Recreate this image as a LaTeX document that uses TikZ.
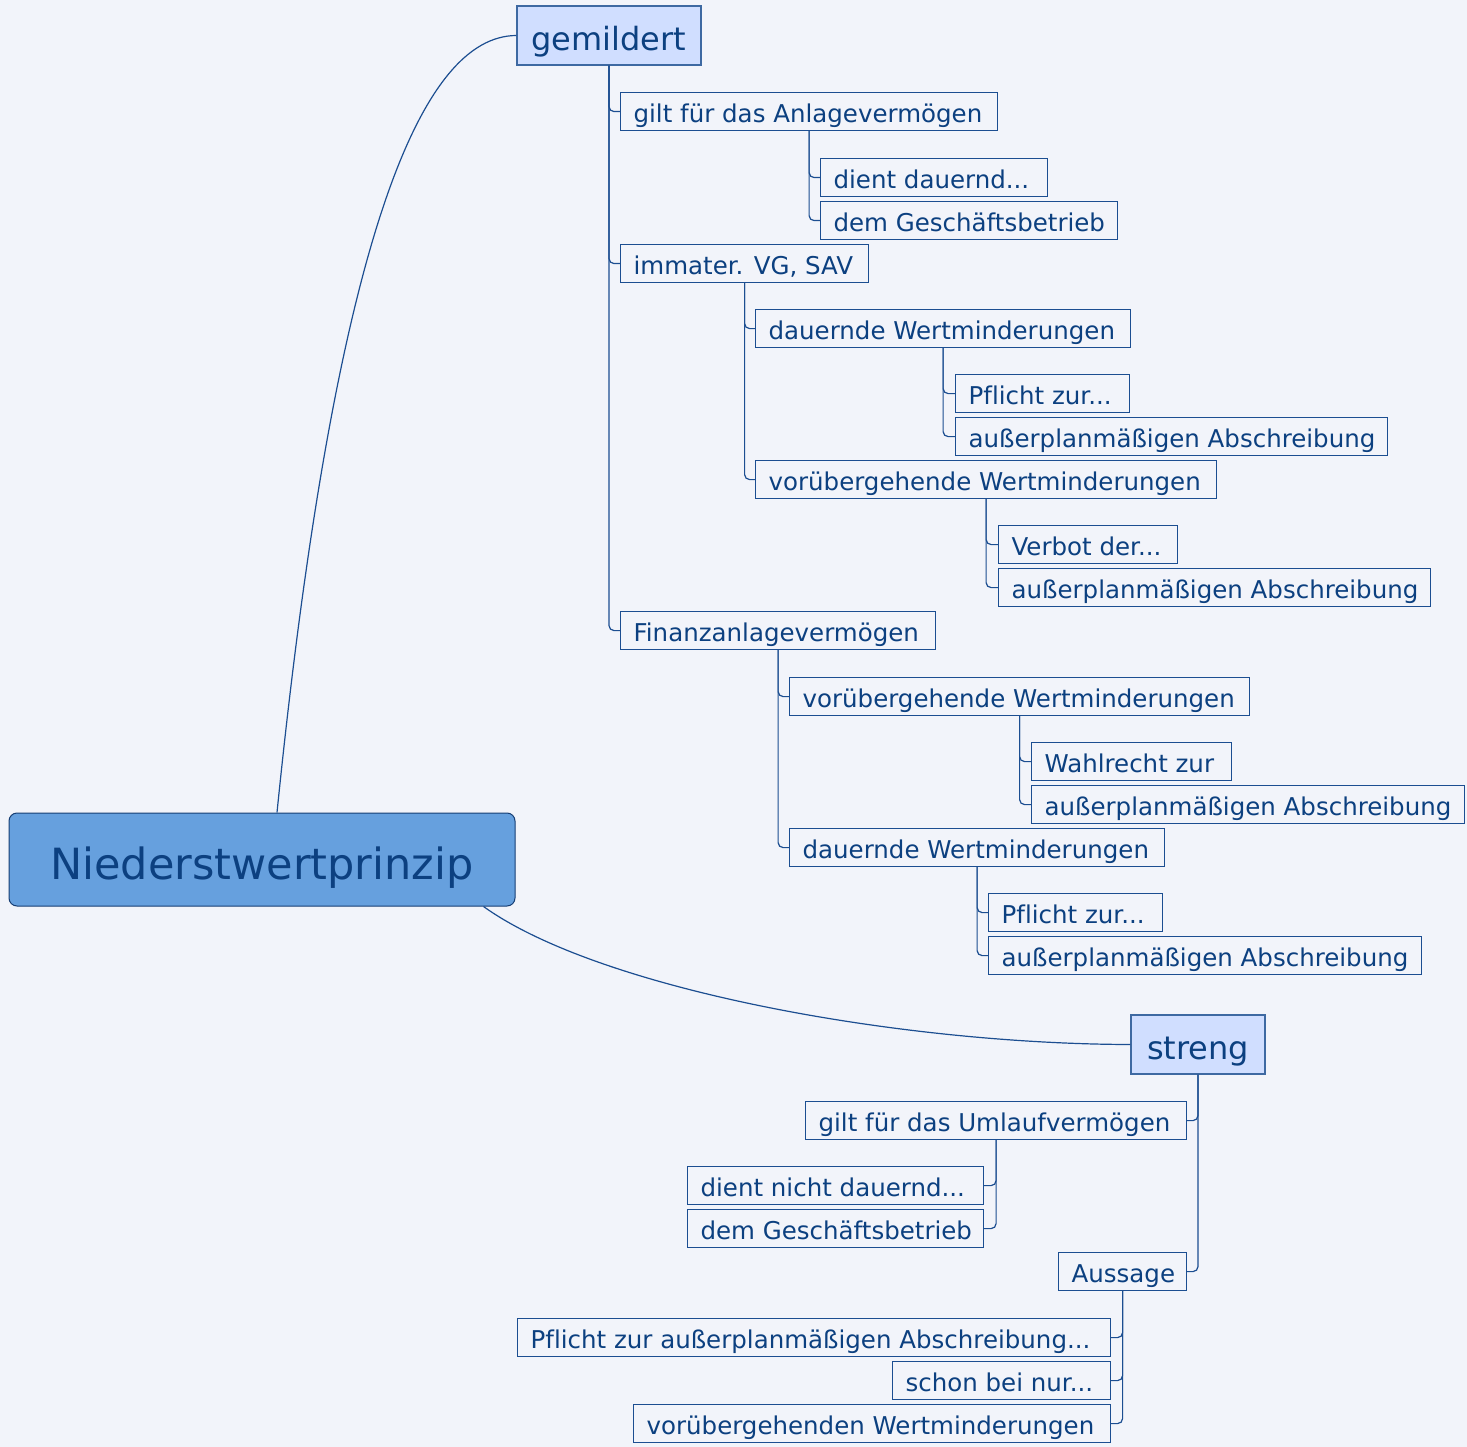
\documentclass[tikz,border=0pt]{standalone}
\usepackage{fontspec}
\setmainfont{DejaVu Sans}[Ligatures=NoCommon]
\definecolor{bg}{RGB}{242,244,250}
\definecolor{lc}{RGB}{28,78,145}
\definecolor{tc}{RGB}{12,64,128}
\definecolor{rootfill}{RGB}{102,160,222}
\definecolor{midfill}{RGB}{208,222,255}
\tikzset{
 leaf/.style={draw=lc, line width=1.2pt, inner xsep=13pt, inner ysep=0pt, minimum height=38pt, anchor=north west, text height=24pt, text depth=2pt, text=tc, font=\fontsize{24.5}{28}\selectfont},
 mid/.style={draw=lc!85!white, line width=1.2pt, fill=midfill, text=tc, inner sep=0pt, minimum height=59pt, text height=32pt, text depth=1.6pt, font=\fontsize{32}{36}\selectfont},
 rootbox/.style={draw=lc!80!black, line width=1pt, fill=rootfill, rounded corners=8pt, text=tc, inner sep=0pt, minimum width=506pt, minimum height=93pt, text height=40pt, text depth=1pt, font=\fontsize{43}{48}\selectfont},
 conn/.style={draw=lc, line width=1.2pt},
 br/.style={conn, rounded corners=5pt},
}
\newcommand\lf[5]{\node[leaf, minimum width=#4pt] (#1) at (#2,#3) {\makebox[\dimexpr#4pt-26pt\relax][l]{#5}};}
\begin{document}
\begin{tikzpicture}[x=1pt,y=-1pt]
\fill[bg] (0,0) rectangle (1467,1447);
\useasboundingbox (0,0) rectangle (1467,1447);

\node[rootbox] (root) at (262,859.5) {Niederstwertprinzip};
\node[mid, minimum width=184pt] (g) at (609,35.5) {gemildert};
\node[mid, minimum width=134pt] (s) at (1198,1044.5) {streng};

\lf{a1}{620}{92}{377}{gilt für das Anlagevermögen}
\lf{a11}{820}{158}{227}{dient dauernd...}
\lf{a12}{820}{201}{297}{dem Geschäftsbetrieb}
\lf{a2}{620}{244}{248}{immater. VG, SAV}
\lf{a21}{755}{309}{375}{dauernde Wertminderungen}
\lf{a211}{955}{374}{174}{Pflicht zur...}
\lf{a212}{955}{417}{432}{außerplanmäßigen Abschreibung}
\lf{a22}{755}{460}{461}{vorübergehende Wertminderungen}
\lf{a221}{998}{525}{179}{Verbot der...}
\lf{a222}{998}{568}{432}{außerplanmäßigen Abschreibung}
\lf{a3}{620}{611}{315}{Finanzanlagevermögen}
\lf{a31}{789}{677}{460}{vorübergehende Wertminderungen}
\lf{a311}{1031}{742}{200}{Wahlrecht zur}
\lf{a312}{1031}{785}{433}{außerplanmäßigen Abschreibung}
\lf{a32}{789}{828}{375}{dauernde Wertminderungen}
\lf{a321}{988}{893}{174}{Pflicht zur...}
\lf{a322}{988}{936}{433}{außerplanmäßigen Abschreibung}
\lf{b1}{805}{1101}{381}{gilt für das Umlaufvermögen}
\lf{b11}{687}{1166}{296}{dient nicht dauernd...}
\lf{b12}{687}{1209}{296}{dem Geschäftsbetrieb}
\lf{b2}{1058}{1252}{128}{Aussage}
\lf{b21}{517}{1318}{593}{Pflicht zur außerplanmäßigen Abschreibung...}
\lf{b22}{892}{1361}{218}{schon bei nur...}
\lf{b23}{633}{1404}{477}{vorübergehenden Wertminderungen}

\draw[conn] ([xshift=15pt]root.north) .. controls (335,240) and (420,36) .. (g.west);
\draw[conn] ([xshift=-32pt]root.south east) .. controls (600,990) and (900,1044) .. (s.west);

\foreach \c in {a1,a2,a3} \draw[br] (g.south) |- (\c.west);
\foreach \c in {a11,a12} \draw[br] (a1.south) |- (\c.west);
\foreach \c in {a21,a22} \draw[br] (a2.south) |- (\c.west);
\foreach \c in {a211,a212} \draw[br] (a21.south) |- (\c.west);
\foreach \c in {a221,a222} \draw[br] (a22.south) |- (\c.west);
\foreach \c in {a31,a32} \draw[br] (a3.south) |- (\c.west);
\foreach \c in {a311,a312} \draw[br] (a31.south) |- (\c.west);
\foreach \c in {a321,a322} \draw[br] (a32.south) |- (\c.west);
\foreach \c in {b1,b2} \draw[br] (s.south) |- (\c.east);
\foreach \c in {b11,b12} \draw[br] (b1.south) |- (\c.east);
\foreach \c in {b21,b22,b23} \draw[br] (b2.south) |- (\c.east);
\end{tikzpicture}
\end{document}
